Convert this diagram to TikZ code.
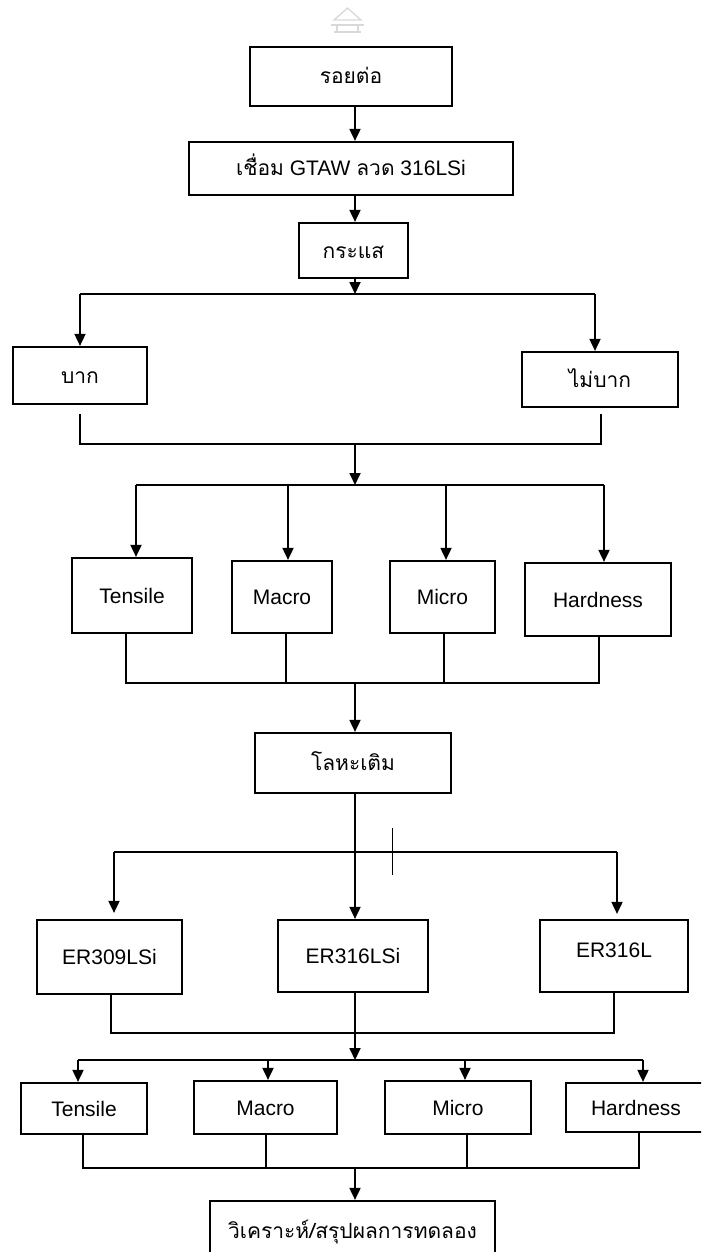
\documentclass[tikz,border=0pt]{standalone}
\usepackage{fontspec}
\setmainfont{Liberation Sans}
\newfontfamily\thai[Script=Thai]{Loma}
\usetikzlibrary{arrows.meta}
\begin{document}
\begin{tikzpicture}[x=1pt,y=-1pt,
  box/.style={draw,line width=2.2pt,inner sep=0pt,align=center,text height=15pt,text depth=0pt,font=\fontsize{21}{24}\selectfont},
  conn/.style={line width=1.8pt},
  arr/.style={conn,-{Triangle[length=12pt,width=11pt]}},
  logo/.style={gray!30,line width=1.3pt}]
\clip (0,0) rectangle (701,1252);
\fill[white] (0,0) rectangle (701,1252);
% faint logo
\draw[logo] (334,20) -- (347.5,8) -- (361,20) -- cycle;
\draw[logo] (331,25) -- (364,25);
\draw[logo] (334,32) -- (361,32);
\draw[logo] (337,25) -- (337,32) (358,25) -- (358,32);
% spine
\coordinate (sp) at (355,0);
% top boxes
\node[box,minimum width=202pt,minimum height=59pt] (n1) at (351,76.5) {\thai รอยต่อ};
\node[box,minimum width=324pt,minimum height=53pt] (n2) at (351,168.5) {{\thai เชื่อม} GTAW {\thai ลวด} 316LSi};
\node[box,minimum width=109pt,minimum height=55pt] (n3) at (353.5,250.5) {\thai กระแส};
\draw[arr] (n1.south -| sp) -- (n2.north -| sp);
\draw[arr] (n2.south -| sp) -- (n3.north -| sp);
% split 1
\coordinate (j1) at (355,294);
\coordinate (j1l) at (80,294);
\coordinate (j1r) at (595,294);
\node[box,minimum width=134pt,minimum height=57pt] (bak) at (80,375.5) {\thai บาก};
\node[box,minimum width=156pt,minimum height=55pt] (mibak) at (600,379.5) {\thai ไม่บาก};
\draw[arr] (n3.south -| sp) -- (j1);
\draw[conn] (j1l) -- (j1r);
\draw[arr] (j1l) -- (bak.north -| j1l);
\draw[arr] (j1r) -- (mibak.north -| j1r);
% join 1
\coordinate (k1l) at (80,444);
\coordinate (k1r) at (601,444);
\coordinate (k1) at (355,444);
\draw[conn,shorten <=9pt,shorten >=6pt] (bak.south -| k1l) -- (k1l) -- (k1r) -- (mibak.south -| k1r);
% split 2
\coordinate (j2) at (355,485);
\coordinate (j2l) at (136,485);
\coordinate (j2r) at (604,485);
\draw[arr] (k1) -- (j2);
\draw[conn] (j2l) -- (j2r);
\node[box,minimum width=120pt,minimum height=75pt] (t1) at (132,595.5) {Tensile};
\node[box,minimum width=100pt,minimum height=72pt] (t2) at (282,597) {Macro};
\node[box,minimum width=105pt,minimum height=72pt] (t3) at (442.5,597) {Micro};
\node[box,minimum width=146pt,minimum height=73pt] (t4) at (598,599.5) {Hardness};
\coordinate (a1) at (136,485);
\coordinate (a2) at (288,485);
\coordinate (a3) at (446,485);
\coordinate (a4) at (604,485);
\draw[arr] (a1) -- (t1.north -| a1);
\draw[arr] (a2) -- (t2.north -| a2);
\draw[arr] (a3) -- (t3.north -| a3);
\draw[arr] (a4) -- (t4.north -| a4);
% join 2
\coordinate (b1) at (126,683);
\coordinate (b2) at (286,683);
\coordinate (b3) at (444,683);
\coordinate (b4) at (599,683);
\coordinate (b0) at (355,683);
\draw[conn] (t1.south -| b1) -- (b1) -- (b4) -- (t4.south -| b4);
\draw[conn] (t2.south -| b2) -- (b2);
\draw[conn] (t3.south -| b3) -- (b3);
% filler metal
\node[box,minimum width=196pt,minimum height=60pt] (fm) at (353,763) {\thai โลหะเติม};
\draw[arr] (b0) -- (fm.north -| sp);
\node[box,minimum width=145pt,minimum height=74pt] (e1) at (109.5,957) {ER309LSi};
\node[box,minimum width=150pt,minimum height=72pt] (e2) at (353,956) {ER316LSi};
\node[box,minimum width=148pt,minimum height=72pt,text depth=12pt] (e3) at (614,956) {ER316L};
\coordinate (c1) at (114,852);
\coordinate (c3) at (617,852);
\coordinate (tk1) at (392,828);
\coordinate (tk2) at (392,875);
\draw[arr] (fm.south -| sp) -- (e2.north -| sp);
\draw[conn] (c1) -- (c3);
\draw[line width=1pt] (tk1) -- (tk2);
\draw[arr,shorten >=6pt] (c1) -- (e1.north -| c1);
\draw[arr,shorten >=5pt] (c3) -- (e3.north -| c3);
% join 3
\coordinate (d1) at (111,1033);
\coordinate (d3) at (614,1033);
\coordinate (f2) at (355,1060);
\draw[conn] (e1.south -| d1) -- (d1) -- (d3) -- (e3.south -| d3);
\draw[arr] (e2.south -| sp) -- (f2);
% split 3
\coordinate (f1) at (78,1060);
\coordinate (f4) at (643,1060);
\draw[conn] (f1) -- (f4);
\node[box,minimum width=126pt,minimum height=51pt] (u1) at (84,1108.5) {Tensile};
\node[box,minimum width=143pt,minimum height=53pt] (u2) at (265.5,1107.5) {Macro};
\node[box,minimum width=146pt,minimum height=53pt] (u3) at (458,1107.5) {Micro};
\node[box,minimum width=140pt,minimum height=49pt] (u4) at (636,1107.5) {Hardness};
\coordinate (g1) at (78,1060);
\coordinate (g2) at (268,1060);
\coordinate (g3) at (465,1060);
\coordinate (g4) at (643,1060);
\draw[arr] (g1) -- (u1.north -| g1);
\draw[arr] (g2) -- (u2.north -| g2);
\draw[arr] (g3) -- (u3.north -| g3);
\draw[arr] (g4) -- (u4.north -| g4);
% join 4
\coordinate (h1) at (83,1168);
\coordinate (h2) at (266,1168);
\coordinate (h3) at (467,1168);
\coordinate (h4) at (639,1168);
\coordinate (h0) at (355,1168);
\draw[conn] (u1.south -| h1) -- (h1) -- (h4) -- (u4.south -| h4);
\draw[conn] (u2.south -| h2) -- (h2);
\draw[conn] (u3.south -| h3) -- (h3);
% final
\node[box,minimum width=285pt,minimum height=60pt] (fin) at (352.5,1231) {\thai วิเคราะห์/สรุปผลการทดลอง};
\draw[arr] (h0) -- (fin.north -| sp);
\end{tikzpicture}
\end{document}
